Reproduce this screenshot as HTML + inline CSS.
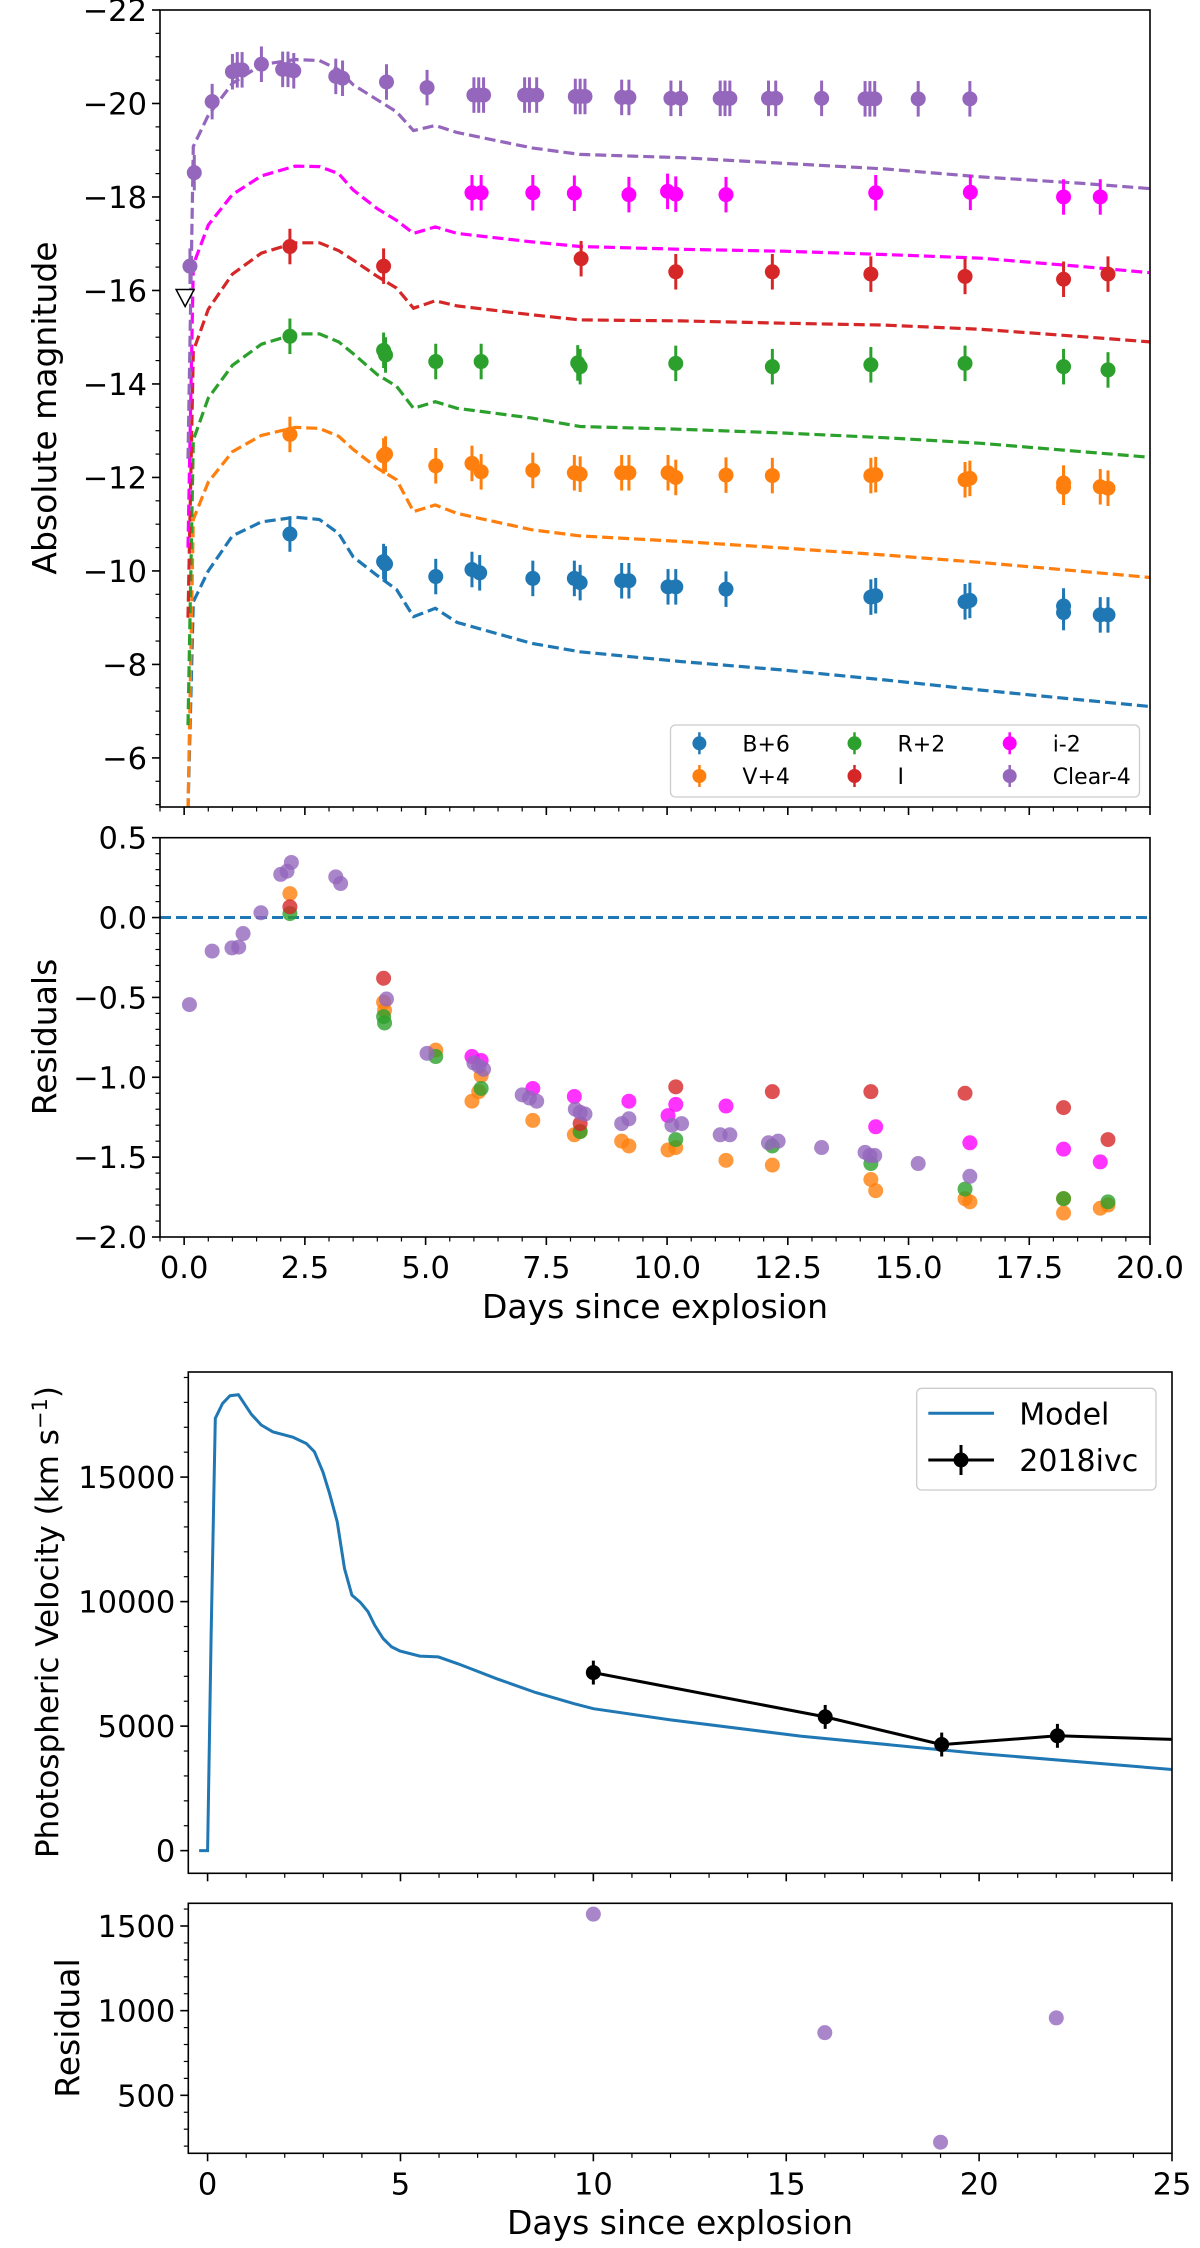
<!DOCTYPE html>
<html><head><meta charset="utf-8">
<style>
html,body{margin:0;padding:0;background:#fff;}
svg{display:block;font-family:"DejaVu Sans","Liberation Sans",sans-serif;}
</style></head>
<body>
<svg id="fig" width="1200" height="2248" viewBox="0 0 1200 2248" xmlns="http://www.w3.org/2000/svg">
<defs>
<clipPath id="c1"><rect x="160" y="10" width="990" height="797"/></clipPath>
<clipPath id="c2"><rect x="160" y="837.7" width="990" height="399.3"/></clipPath>
<clipPath id="c3"><rect x="188.3" y="1372" width="983.7" height="501.3"/></clipPath>
<clipPath id="c4"><rect x="188.3" y="1903.3" width="983.7" height="250"/></clipPath>
</defs>
</svg>
<script>
// ---------- Panel 1 data (light curves) ----------
const bandNames = ["B+6","V+4","R+2","I","i-2","Clear-4"];
const bDays = [2.19,4.13,4.17,5.21,5.96,6.12,7.22,8.08,8.2,9.06,9.21,10.02,10.18,11.22,14.22,14.32,16.17,16.27,18.21,18.21,18.97,19.13];
const bMags = [-10.79,-10.2,-10.15,-9.88,-10.03,-9.96,-9.84,-9.84,-9.75,-9.79,-9.79,-9.66,-9.66,-9.61,-9.44,-9.47,-9.34,-9.37,-9.25,-9.11,-9.06,-9.06];
const vDays = [2.19,4.13,4.17,5.21,5.96,6.15,7.22,8.08,8.2,9.06,9.21,10.02,10.18,11.22,12.18,14.22,14.32,16.17,16.27,18.21,18.21,18.97,19.13];
const vMags = [-12.92,-12.46,-12.5,-12.25,-12.3,-12.12,-12.15,-12.1,-12.07,-12.1,-12.1,-12.1,-12.0,-12.05,-12.04,-12.04,-12.06,-11.95,-11.98,-11.88,-11.79,-11.8,-11.77];
const rDays = [2.19,4.13,4.17,5.21,6.15,8.15,8.2,10.18,12.18,14.22,16.17,18.21,19.13];
const rMags = [-15.02,-14.72,-14.62,-14.48,-14.48,-14.45,-14.37,-14.44,-14.37,-14.41,-14.44,-14.37,-14.3];
const iDays = [2.19,4.13,8.22,10.18,12.18,14.22,16.17,18.21,19.13];
const iMags = [-16.94,-16.52,-16.68,-16.4,-16.4,-16.35,-16.3,-16.24,-16.35];
const sdssiDays = [5.96,6.15,7.22,8.08,9.21,10.01,10.18,11.22,14.32,16.28,18.21,18.97];
const sdssiMags = [-18.09,-18.09,-18.09,-18.08,-18.05,-18.12,-18.06,-18.05,-18.09,-18.1,-18.0,-18.0];
const clearDays = [0.12,0.21,0.58,1.0,1.1,1.2,1.6,2.04,2.15,2.27,3.14,3.28,4.19,5.03,6.0,6.1,6.2,7.05,7.15,7.3,8.1,8.2,8.3,9.06,9.21,10.08,10.28,11.1,11.2,11.3,12.1,12.25,13.2,14.1,14.2,14.3,15.2,16.27];
const clearMags = [-16.52,-18.52,-20.04,-20.68,-20.72,-20.72,-20.84,-20.73,-20.73,-20.7,-20.58,-20.54,-20.46,-20.34,-20.18,-20.18,-20.18,-20.18,-20.18,-20.18,-20.15,-20.15,-20.15,-20.13,-20.13,-20.11,-20.11,-20.11,-20.11,-20.11,-20.11,-20.11,-20.11,-20.1,-20.1,-20.1,-20.1,-20.1];
const magErr = 0.38;
const limitDay = [0.02];
const limitMag = [-15.85];
// model light curves
const modelT = [0.08,0.19,0.5,1.0,1.6,2.3,2.8,3.2,3.5,4.0,4.4,4.75,5.2,5.65,7.2,8.2,10.3,12.4,14.5,16.5,18.6,20.0];
const modelB = [-4.9,-9.34,-10.0,-10.75,-11.05,-11.15,-11.1,-10.8,-10.3,-9.9,-9.6,-9.02,-9.2,-8.9,-8.45,-8.27,-8.06,-7.88,-7.67,-7.45,-7.24,-7.1];
const modelV = [-4.9,-11.1,-11.9,-12.55,-12.9,-13.07,-13.05,-12.88,-12.6,-12.2,-11.95,-11.27,-11.41,-11.23,-10.88,-10.75,-10.63,-10.49,-10.34,-10.18,-9.99,-9.86];
const modelR = [-6.7,-12.8,-13.7,-14.4,-14.85,-15.07,-15.07,-14.9,-14.65,-14.2,-13.95,-13.48,-13.62,-13.48,-13.27,-13.09,-13.03,-12.95,-12.85,-12.73,-12.55,-12.43];
const modelI = [-9.0,-14.7,-15.6,-16.35,-16.8,-17.02,-17.02,-16.85,-16.65,-16.3,-16.05,-15.62,-15.78,-15.67,-15.48,-15.37,-15.35,-15.3,-15.26,-15.17,-15.01,-14.9];
const modelSdssi = [-10.5,-16.55,-17.4,-18.05,-18.45,-18.66,-18.65,-18.5,-18.15,-17.75,-17.5,-17.22,-17.36,-17.22,-17.04,-16.94,-16.88,-16.84,-16.77,-16.69,-16.51,-16.38];
const modelClear = [-12.4,-19.08,-19.75,-20.43,-20.83,-20.94,-20.92,-20.72,-20.4,-20.08,-19.82,-19.42,-19.53,-19.38,-19.05,-18.91,-18.84,-18.72,-18.6,-18.43,-18.29,-18.18];
const magTicks = [-22,-20,-18,-16,-14,-12,-10,-8,-6];
// ---------- Panel 2 data (residuals) ----------
const resVDays = [2.19,4.13,4.15,5.21,5.96,6.1,6.15,7.22,8.08,8.2,9.06,9.21,10.02,10.18,11.22,12.18,14.22,14.32,16.17,16.27,18.21,18.21,18.97,19.13];
const resV = [0.15,-0.53,-0.58,-0.83,-1.15,-1.09,-0.99,-1.27,-1.36,-1.34,-1.40,-1.43,-1.455,-1.44,-1.52,-1.55,-1.64,-1.71,-1.76,-1.78,-1.85,-1.76,-1.82,-1.80];
const resRDays = [2.19,4.13,4.15,5.21,6.15,8.2,10.18,12.18,14.22,16.17,18.21,19.13];
const resR = [0.025,-0.62,-0.66,-0.87,-1.07,-1.34,-1.39,-1.43,-1.54,-1.70,-1.76,-1.78];
const resIDays = [2.19,4.13,8.2,10.18,12.18,14.22,16.17,18.21,19.13];
const resI = [0.067,-0.38,-1.29,-1.06,-1.09,-1.09,-1.10,-1.19,-1.39];
const resSdssiDays = [5.96,6.15,7.22,8.08,9.21,10.02,10.18,11.22,14.32,16.27,18.21,18.97];
const resSdssi = [-0.87,-0.895,-1.07,-1.12,-1.15,-1.24,-1.17,-1.18,-1.31,-1.41,-1.45,-1.53];
const resClearDays = [0.11,0.58,0.99,1.13,1.22,1.59,2.0,2.13,2.22,3.14,3.24,4.19,5.03,6.0,6.1,6.2,7.0,7.15,7.3,8.1,8.2,8.3,9.06,9.21,10.1,10.3,11.1,11.3,12.1,12.3,13.2,14.1,14.2,14.3,15.2,16.27];
const resClear = [-0.545,-0.21,-0.19,-0.185,-0.1,0.03,0.27,0.29,0.345,0.255,0.213,-0.51,-0.85,-0.91,-0.93,-0.95,-1.11,-1.13,-1.15,-1.2,-1.22,-1.23,-1.29,-1.26,-1.30,-1.29,-1.36,-1.36,-1.41,-1.40,-1.44,-1.47,-1.49,-1.49,-1.54,-1.62];
const resTicks = [0.5,0.0,-0.5,-1.0,-1.5,-2.0];
const resTickLabels = ["0.5","0.0","\u22120.5","\u22121.0","\u22121.5","\u22122.0"];
const dayTicks1 = [0,2.5,5,7.5,10,12.5,15,17.5,20];
const dayTickLabels1 = ["0.0","2.5","5.0","7.5","10.0","12.5","15.0","17.5","20.0"];
// ---------- Panel 3 data (velocity) ----------
const velModelT = [-0.22,0.0,0.09,0.2,0.39,0.58,0.8,1.13,1.39,1.69,2.21,2.56,2.77,2.99,3.16,3.36,3.55,3.74,3.96,4.16,4.33,4.55,4.77,4.98,5.5,5.98,6.5,7.5,8.5,9.5,10,12,15.37,20,25];
const velModel = [0,0,8590,17360,17960,18270,18310,17530,17090,16820,16600,16350,16020,15210,14350,13210,11330,10260,9970,9590,9060,8520,8180,8020,7810,7780,7500,6900,6350,5900,5700,5250,4600,3900,3260];
const velObsDays = [10.0,16.01,19.03,22.03,30.0];
const velObs = [7150,5370,4260,4610,4230];
const velErr = [480,480,480,480,480];
const velTicks = [0,5000,10000,15000];
const dayTicks2 = [0,5,10,15,20,25];
// ---------- Panel 4 data (velocity residual) ----------
const velResDays = [10,16,19,22];
const velRes = [1570,870,223,957];
const velResTicks = [500,1000,1500];

const NS = "http://www.w3.org/2000/svg";
const svg = document.getElementById("fig");
function el(tag, attrs, parent){
  const e = document.createElementNS(NS, tag);
  for (const k in attrs) e.setAttribute(k, attrs[k]);
  (parent||svg).appendChild(e);
  return e;
}
function lin(d0,d1,p0,p1){ return v => p0 + (v-d0)/(d1-d0)*(p1-p0); }
const minus = s => String(s).replace("-","\u2212");

// panel geometry
const P1 = {l:160,r:1150,t:10,b:807};
const P2 = {l:160,r:1150,t:837.7,b:1237};
const P3 = {l:188.3,r:1172,t:1372,b:1873.3};
const P4 = {l:188.3,r:1172,t:1903.3,b:2153.3};
const x1 = lin(-0.5,20,P1.l,P1.r);
const y1 = lin(-22,-4.95,P1.t,P1.b);
const y2 = lin(0.5,-2.0,P2.t,P2.b);
const x3 = lin(-0.5,25,P3.l,P3.r);
const y3 = lin(19220,-910,P3.t,P3.b);
const y4 = lin(1634,157.6,P4.t,P4.b);

const colors = ["#1f77b4","#ff7f0e","#2ca02c","#d62728","#ff00ff","#9467bd"];

function yTicks(P, ys, majors, labels, minorStep, vmin, vmax, name){
  const g = el("g",{});
  
  
  majors.forEach((v,i)=>{
    const y = ys(v);
    el("line",{x1:P.l-8,x2:P.l,y1:y,y2:y,stroke:"#000","stroke-width":1.6},g);
    const t = el("text",{x:P.l-13,y:y+11,"text-anchor":"end","font-size":30.5},g);
    t.textContent = labels[i];
  });
  const n0 = Math.ceil(vmin/minorStep), n1 = Math.floor(vmax/minorStep);
  for(let n=n0;n<=n1;n++){
    const v = n*minorStep;
    if (majors.some(m=>Math.abs(m-v)<1e-6)) continue;
    const y = ys(v);
    el("line",{x1:P.l-4.5,x2:P.l,y1:y,y2:y,stroke:"#000","stroke-width":1.2},g);
  }
}
function xTicks(P, xs, majors, labels, minorStep, vmin, vmax, name){
  const g = el("g",{});
  
  
  majors.forEach((v,i)=>{
    const x = xs(v);
    el("line",{x1:x,x2:x,y1:P.b,y2:P.b+8,stroke:"#000","stroke-width":1.6},g);
    if (labels){
      const t = el("text",{x:x,y:P.b+41,"text-anchor":"middle","font-size":30.5},g);
      t.textContent = labels[i];
    }
  });
  const n0 = Math.ceil(vmin/minorStep), n1 = Math.floor(vmax/minorStep);
  for(let n=n0;n<=n1;n++){
    const v = n*minorStep;
    if (majors.some(m=>Math.abs(m-v)<1e-6)) continue;
    const x = xs(v);
    el("line",{x1:x,x2:x,y1:P.b,y2:P.b+4.5,stroke:"#000","stroke-width":1.2},g);
  }
}
function frame(P,name){
  const r = el("rect",{x:P.l,y:P.t,width:P.r-P.l,height:P.b-P.t,fill:"none",stroke:"#000","stroke-width":1.6});
  
  
}
function polyline(xs, ys, X, Y, attrs, clip, name){
  const pts = X.map((v,i)=>xs(v).toFixed(1)+","+ys(Y[i]).toFixed(1)).join(" ");
  const p = el("polyline",Object.assign({points:pts,fill:"none","clip-path":"url(#"+clip+")"},attrs));
  
  
  return p;
}

// ===== Panel 1 =====
const modelSets = [modelB,modelV,modelR,modelI,modelSdssi,modelClear];
const modelNames = ["model-b","model-v","model-r","model-i","model-sdss-i","model-clear"];
modelSets.forEach((m,k)=>{
  polyline(x1,y1,modelT,m,{stroke:colors[k],"stroke-width":3.2,"stroke-dasharray":"11,5"},"c1",modelNames[k]+"-curve");
});
const obsD = [bDays,vDays,rDays,iDays,sdssiDays,clearDays];
const obsM = [bMags,vMags,rMags,iMags,sdssiMags,clearMags];
const obsNames = ["b","v","r","i-band","sdss-i","clear"];
obsD.forEach((D,k)=>{
  const g = el("g",{"clip-path":"url(#c1)"});
  
  
  D.forEach((d,i)=>{
    const x = x1(d), y = y1(obsM[k][i]);
    el("line",{x1:x,x2:x,y1:y1(obsM[k][i]-magErr),y2:y1(obsM[k][i]+magErr),stroke:colors[k],"stroke-width":3},g);
    el("circle",{cx:x,cy:y,r:7.5,fill:colors[k]},g);
  });
});
limitDay.forEach((d,i)=>{
  const x = x1(d), y = y1(limitMag[i]);
  const tri = el("polygon",{points:`${x-9},${y-8} ${x+9},${y-8} ${x},${y+9}`,fill:"#fff",stroke:"#000","stroke-width":1.5});
  
  
});
frame(P1,"light-curve-axes");
yTicks(P1,y1,magTicks,magTicks.map(minus),0.5,-22,-5,"magnitude-y-ticks");
xTicks(P1,x1,dayTicks1,null,0.5,-0.5,20,"light-curve-x-ticks");
// legend panel 1
(function(){
  const g = el("g",{});
  
  
  el("rect",{x:670.5,y:725,width:469,height:72,rx:5,fill:"#fff","fill-opacity":0.8,stroke:"#cccccc","stroke-width":1.3},g);
  const cols=[699.4,854.5,1009.7], rows=[743.3,776];
  const order=[0,2,4,1,3,5];
  order.forEach((k,j)=>{
    const c = j%3, r = Math.floor(j/3);
    const e = el("g",{},g);
    
    
    el("line",{x1:cols[c],x2:cols[c],y1:rows[r]-11,y2:rows[r]+11,stroke:colors[k],"stroke-width":2.5},e);
    el("circle",{cx:cols[c],cy:rows[r],r:7,fill:colors[k]},e);
    const t = el("text",{x:cols[c]+43,y:rows[r]+8,"font-size":22},e);
    t.textContent = bandNames[k];
  });
})();
{
  const t = el("text",{x:0,y:0,"font-size":33,"text-anchor":"middle",transform:"translate(56,408) rotate(-90)"});
  t.textContent = "Absolute magnitude";
  
  
}

// ===== Panel 2 =====
{
  const zl = el("line",{x1:P2.l,x2:P2.r,y1:y2(0),y2:y2(0),stroke:"#1f77b4","stroke-width":3,"stroke-dasharray":"11,5"});
  
  
}
const resD = [resVDays,resRDays,resIDays,resSdssiDays,resClearDays];
const resY = [resV,resR,resI,resSdssi,resClear];
const resC = [1,2,3,4,5];
resD.forEach((D,j)=>{
  const g = el("g",{"clip-path":"url(#c2)"});
  
  
  D.forEach((d,i)=>{
    el("circle",{cx:x1(d),cy:y2(resY[j][i]),r:7.5,fill:colors[resC[j]],"fill-opacity":0.8},g);
  });
});
frame(P2,"residual-axes");
yTicks(P2,y2,resTicks,resTickLabels,0.1,-2.0,0.5,"residual-y-ticks");
xTicks(P2,x1,dayTicks1,dayTickLabels1,0.5,-0.5,20,"residual-x-ticks");
{
  const t = el("text",{x:0,y:0,"font-size":33,"text-anchor":"middle",transform:"translate(56,1037) rotate(-90)"});
  t.textContent = "Residuals";
  
  
  const x = el("text",{x:655,y:1318,"font-size":33,"text-anchor":"middle"});
  x.textContent = "Days since explosion";
  
  
}

// ===== Panel 3 =====
polyline(x3,y3,velModelT,velModel,{stroke:"#1f77b4","stroke-width":3},"c3","velocity-model-line");
polyline(x3,y3,velObsDays,velObs,{stroke:"#000","stroke-width":3},"c3","velocity-observed-line");
{
  const g = el("g",{"clip-path":"url(#c3)"});
  
  
  velObsDays.forEach((d,i)=>{
    const x = x3(d);
    el("line",{x1:x,x2:x,y1:y3(velObs[i]-velErr[i]),y2:y3(velObs[i]+velErr[i]),stroke:"#000","stroke-width":3},g);
    el("circle",{cx:x,cy:y3(velObs[i]),r:7.5,fill:"#000"},g);
  });
}
frame(P3,"velocity-axes");
yTicks(P3,y3,velTicks,velTicks.map(String),1000,0,19000,"velocity-y-ticks");
xTicks(P3,x3,dayTicks2,null,1,0,25,"velocity-x-ticks");
(function(){
  const g = el("g",{});
  
  
  el("rect",{x:916.7,y:1388.3,width:239.3,height:101.7,rx:5,fill:"#fff","fill-opacity":0.8,stroke:"#cccccc","stroke-width":1.3},g);
  const e1 = el("g",{},g);
  
  
  el("line",{x1:928.3,x2:994,y1:1413.3,y2:1413.3,stroke:"#1f77b4","stroke-width":3},e1);
  const t1 = el("text",{x:1019.3,y:1424.5,"font-size":30},e1); t1.textContent="Model";
  const e2 = el("g",{},g);
  
  
  el("line",{x1:928.3,x2:994,y1:1460,y2:1460,stroke:"#000","stroke-width":3},e2);
  el("line",{x1:961,x2:961,y1:1445,y2:1475,stroke:"#000","stroke-width":3},e2);
  el("circle",{cx:961,cy:1460,r:7.5,fill:"#000"},e2);
  const t2 = el("text",{x:1019.3,y:1471,"font-size":30},e2); t2.textContent="2018ivc";
})();
{
  const t = el("text",{x:0,y:0,"font-size":31,"text-anchor":"middle",transform:"translate(58,1622) rotate(-90)"});
  t.appendChild(document.createTextNode("Photospheric Velocity (km s"));
  const sup = document.createElementNS(NS,"tspan");
  sup.setAttribute("dy","-11"); sup.setAttribute("font-size","21");
  sup.textContent = "\u22121";
  t.appendChild(sup);
  const close = document.createElementNS(NS,"tspan");
  close.setAttribute("dy","11");
  close.textContent = ")";
  t.appendChild(close);
  
  
}

// ===== Panel 4 =====
{
  const g = el("g",{"clip-path":"url(#c4)"});
  
  
  velResDays.forEach((d,i)=>{
    el("circle",{cx:x3(d),cy:y4(velRes[i]),r:7.5,fill:"#9467bd","fill-opacity":0.8},g);
  });
}
frame(P4,"velocity-residual-axes");
yTicks(P4,y4,velResTicks,velResTicks.map(String),100,200,1600,"velocity-residual-y-ticks");
xTicks(P4,x3,dayTicks2,dayTicks2.map(String),1,0,25,"velocity-residual-x-ticks");
{
  const t = el("text",{x:0,y:0,"font-size":33,"text-anchor":"middle",transform:"translate(79,2028) rotate(-90)"});
  t.textContent = "Residual";
  
  
  const x = el("text",{x:680,y:2234,"font-size":33,"text-anchor":"middle"});
  x.textContent = "Days since explosion";
  
  
}
</script>
</body></html>
